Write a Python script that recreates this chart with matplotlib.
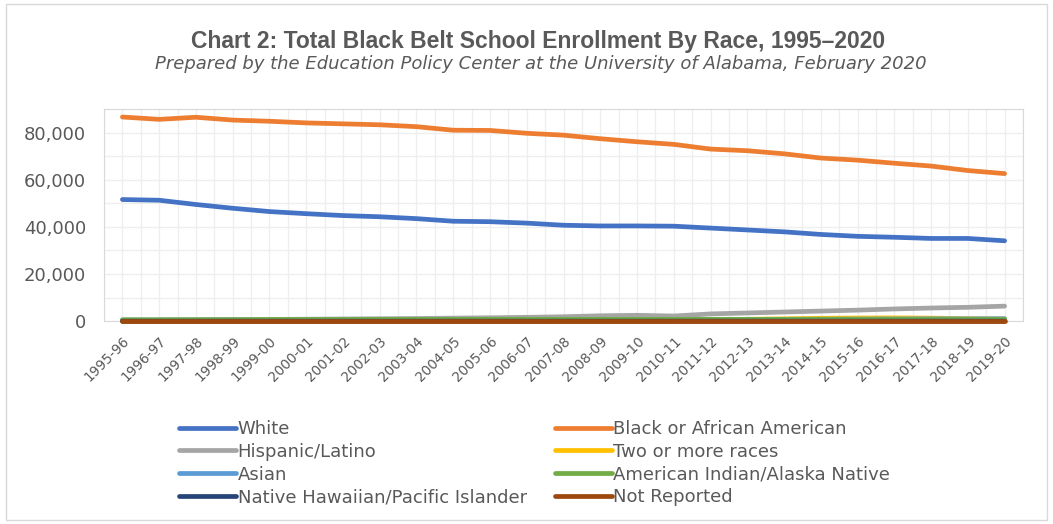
import numpy as np
import matplotlib.pyplot as plt
from matplotlib.patches import Rectangle

plt.rcParams["font.family"] = ["DejaVu Sans"]

years = ["1995-96", "1996-97", "1997-98", "1998-99", "1999-00", "2000-01",
         "2001-02", "2002-03", "2003-04", "2004-05", "2005-06", "2006-07",
         "2007-08", "2008-09", "2009-10", "2010-11", "2011-12", "2012-13",
         "2013-14", "2014-15", "2015-16", "2016-17", "2017-18", "2018-19",
         "2019-20"]

white = [51600, 51300, 49500, 47900, 46500, 45600, 44800, 44300, 43500,
         42400, 42200, 41600, 40700, 40400, 40400, 40300, 39500, 38700,
         37900, 36800, 36000, 35600, 35100, 35100, 34100]
black = [86600, 85600, 86500, 85300, 84800, 84100, 83700, 83300, 82500,
         81000, 80900, 79700, 78900, 77400, 76100, 75000, 73000, 72300,
         71000, 69200, 68300, 67000, 65800, 63900, 62600]
hispanic = [500, 550, 600, 700, 750, 850, 950, 1050, 1150, 1300, 1450,
            1650, 1900, 2300, 2500, 2200, 3100, 3500, 3900, 4300, 4700,
            5200, 5600, 5900, 6400]
two_more = [0, 0, 0, 0, 0, 0, 0, 0, 0, 0, 0, 0, 0, 0, 0, 200, 500, 800,
            1000, 1250, 1350, 1400, 1300, 1100, 1000]
asian = [400, 400, 400, 450, 450, 450, 500, 500, 500, 550, 550, 550, 600,
         600, 650, 650, 700, 750, 800, 850, 900, 950, 1000, 1000, 1050]
am_indian = [600, 600, 650, 650, 700, 700, 700, 750, 750, 750, 800, 800,
             800, 800, 800, 800, 800, 800, 750, 750, 750, 750, 750, 750, 750]
hawaiian = [20, 20, 20, 20, 20, 25, 25, 25, 30, 30, 30, 30, 35, 35, 35,
            40, 40, 40, 40, 45, 45, 45, 50, 50, 50]
not_reported = [0] * 25

series = [
    ("White", white, "#4472c4"),
    ("Black or African American", black, "#ed7d31"),
    ("Hispanic/Latino", hispanic, "#a5a5a5"),
    ("Two or more races", two_more, "#ffc000"),
    ("Asian", asian, "#5b9bd5"),
    ("American Indian/Alaska Native", am_indian, "#70ad47"),
    ("Native Hawaiian/Pacific Islander", hawaiian, "#264478"),
    ("Not Reported", not_reported, "#9e480e"),
]

text_color = "#595959"

fig = plt.figure(figsize=(10.53, 5.24), dpi=100)
fig.patches.append(Rectangle((0.006, 0.008), 0.988, 0.984,
                             transform=fig.transFigure, fill=False,
                             edgecolor="#d9d9d9", linewidth=1))

ax = fig.add_axes([0.0988, 0.387, 0.8727, 0.405])

x = np.arange(len(years))
lines = {}
for name, vals, col in series:
    ln, = ax.plot(x, vals, color=col, linewidth=3.4, label=name,
                  solid_capstyle="round", clip_on=False, zorder=3)
    lines[name] = ln

ax.set_xlim(-0.5, len(years) - 0.5)
ax.set_ylim(0, 90000)
ax.set_yticks(np.arange(0, 90000, 20000))
ax.set_yticklabels([f"{v:,}" for v in range(0, 90000, 20000)])
ax.set_yticks(np.arange(0, 90001, 10000), minor=True)
ax.set_xticks(x)
ax.set_xticklabels(years, rotation=45, ha="right", rotation_mode="anchor",
                   fontsize=9.8, color=text_color)
ax.set_xticks(np.arange(-0.5, len(years), 0.5), minor=True)

ax.tick_params(axis="y", labelsize=13, colors=text_color, length=0, pad=13)
ax.tick_params(axis="x", length=0, pad=9)
ax.tick_params(which="minor", length=0)
ax.grid(True, which="both", color="#eeeeee", linewidth=0.9)
ax.set_axisbelow(True)
for sp in ax.spines.values():
    sp.set_color("#d9d9d9")

fig.text(0.511, 0.92, "Chart 2: Total Black Belt School Enrollment By Race, 1995\u20132020",
         ha="center", va="center", fontsize=16.5, fontweight="bold",
         color=text_color, family="Liberation Sans")
fig.text(0.514, 0.878,
         "Prepared by the Education Policy Center at the University of Alabama, February 2020",
         ha="center", va="center", fontsize=13, style="italic",
         color=text_color)

# legend filled row by row like the original (matplotlib fills by column)
order = ["White", "Hispanic/Latino", "Asian", "Native Hawaiian/Pacific Islander",
         "Black or African American", "Two or more races",
         "American Indian/Alaska Native", "Not Reported"]
fig.legend([lines[n] for n in order], order, ncol=2, loc="upper left",
           bbox_to_anchor=(0.163, 0.2126), frameon=False, fontsize=13,
           labelcolor=text_color, handlelength=3.15, handletextpad=0.1,
           columnspacing=1.55, labelspacing=0.27, borderaxespad=0)

fig.savefig("out.png", dpi=100)
